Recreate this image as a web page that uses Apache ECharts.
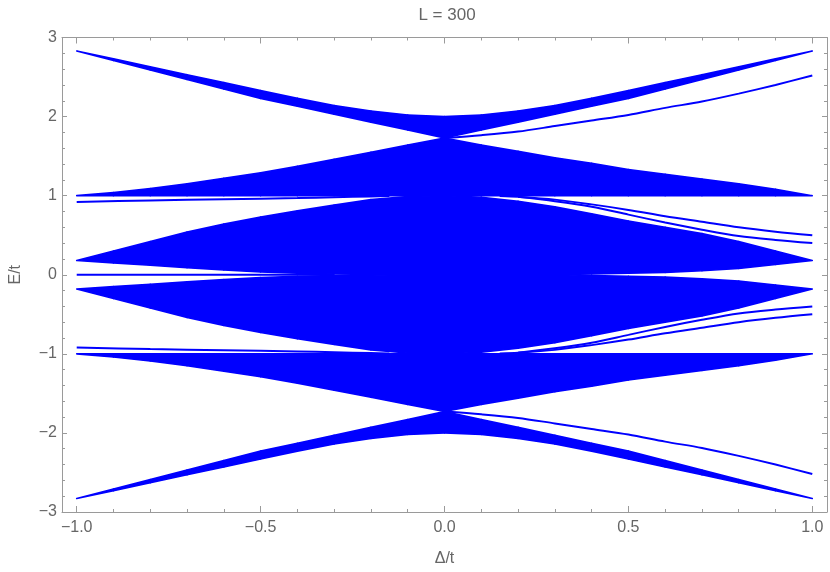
<!DOCTYPE html>
<html>
<head>
<meta charset="utf-8">
<script src="https://cdn.jsdelivr.net/npm/echarts@6/dist/echarts.min.js"></script>
<style>
  html, body { margin: 0; padding: 0; background: #fff; }
  #chart { width: 830px; height: 572px; }
</style>
</head>
<body>
<div id="chart"></div>
<script>
// sample points along Δ/t
const deltas = [-1, -0.9, -0.8, -0.7, -0.6, -0.5, -0.4, -0.3, -0.2, -0.1, 0,
  0.1, 0.2, 0.3, 0.4, 0.5, 0.6, 0.7, 0.8, 0.9, 1]

// bulk bands, E > 0 (lower / upper edge)
const bandALower = [2.83, 2.71, 2.59, 2.47, 2.35, 2.23, 2.13, 2.03, 1.93, 1.83, 1.73,
  1.83, 1.93, 2.03, 2.13, 2.23, 2.35, 2.47, 2.59, 2.71, 2.83]
const bandAUpper = [2.83, 2.73, 2.63, 2.53, 2.43, 2.33, 2.23, 2.14, 2.07, 2.02, 2.00,
  2.02, 2.07, 2.14, 2.23, 2.33, 2.43, 2.53, 2.63, 2.73, 2.83]
const bandBLower = [1, 1, 1, 1, 1, 1, 1, 1, 1, 1, 1,
  1, 1, 1, 1, 1, 1, 1, 1, 1, 1]
const bandBUpper = [1.00, 1.04, 1.09, 1.15, 1.22, 1.29, 1.37, 1.46, 1.55, 1.64, 1.73,
  1.64, 1.56, 1.48, 1.41, 1.33, 1.27, 1.21, 1.15, 1.08, 1.00]
const bandCLower = [0.18, 0.15, 0.12, 0.09, 0.06, 0.035, 0.02, 0.01, 0.005, 0, 0,
  0, 0, 0, 0.01, 0.02, 0.03, 0.05, 0.08, 0.13, 0.18]
const bandCUpper = [0.18, 0.30, 0.42, 0.54, 0.64, 0.73, 0.81, 0.88, 0.95, 0.99, 1.00,
  0.98, 0.93, 0.86, 0.77, 0.68, 0.60, 0.52, 0.42, 0.30, 0.18]

// bulk bands, E < 0
const negALower = [-2.83, -2.73, -2.63, -2.53, -2.43, -2.33, -2.23, -2.14, -2.07, -2.02, -2.00,
  -2.02, -2.07, -2.14, -2.23, -2.33, -2.43, -2.53, -2.63, -2.73, -2.83]
const negAUpper = [-2.83, -2.71, -2.59, -2.47, -2.35, -2.23, -2.13, -2.03, -1.93, -1.83, -1.73,
  -1.83, -1.93, -2.03, -2.13, -2.23, -2.35, -2.47, -2.59, -2.71, -2.83]
const negBLower = [-1.00, -1.04, -1.09, -1.15, -1.22, -1.29, -1.37, -1.46, -1.55, -1.64, -1.73,
  -1.64, -1.56, -1.48, -1.41, -1.33, -1.27, -1.21, -1.15, -1.08, -1.00]
const negBUpper = [-1, -1, -1, -1, -1, -1, -1, -1, -1, -1, -1,
  -1, -1, -1, -1, -1, -1, -1, -1, -1, -1]
const negCLower = [-0.18, -0.30, -0.42, -0.54, -0.64, -0.73, -0.81, -0.88, -0.95, -0.99, -1.00,
  -0.98, -0.93, -0.86, -0.77, -0.68, -0.60, -0.52, -0.42, -0.30, -0.18]
const negCUpper = [-0.18, -0.15, -0.12, -0.09, -0.06, -0.035, -0.02, -0.01, -0.005, 0, 0,
  0, 0, 0, -0.01, -0.02, -0.03, -0.05, -0.08, -0.13, -0.18]

// edge states
const leftEdgeX = [-1, -0.8, -0.6, -0.4, -0.3, -0.2, -0.15]
const leftEdgeUp = [0.92, 0.94, 0.955, 0.97, 0.98, 0.99, 0.995]
const leftEdgeDown = [-0.92, -0.94, -0.955, -0.97, -0.98, -0.99, -0.995]
const zeroModeX = [-1, -0.3]
const zeroModeY = [0, 0]

const right1X = [0, 0.1, 0.2, 0.3, 0.4, 0.5, 0.6, 0.7, 0.8, 0.9, 1]
const right1Up = [1.73, 1.765, 1.81, 1.88, 1.95, 2.02, 2.11, 2.19, 2.29, 2.40, 2.52]
const right1Down = [-1.73, -1.765, -1.81, -1.88, -1.95, -2.02, -2.11, -2.19, -2.29, -2.40, -2.52]
const right2X = [0.15, 0.2, 0.3, 0.4, 0.5, 0.6, 0.7, 0.8, 0.9, 1]
const right2Up = [0.995, 0.985, 0.95, 0.89, 0.82, 0.74, 0.67, 0.60, 0.545, 0.50]
const right2Down = [-0.995, -0.985, -0.95, -0.89, -0.82, -0.74, -0.67, -0.60, -0.545, -0.50]
const right3X = [0.2, 0.3, 0.4, 0.5, 0.6, 0.7, 0.8, 0.9, 1]
const right3Up = [0.985, 0.93, 0.86, 0.76, 0.66, 0.57, 0.49, 0.44, 0.40]
const right3Down = [-0.985, -0.93, -0.86, -0.76, -0.66, -0.57, -0.49, -0.44, -0.40]

// ticks
const xMajorTicks = [-1, -0.5, 0, 0.5, 1]
const xMinorTicks = [-1, -0.9, -0.8, -0.7, -0.6, -0.5, -0.4, -0.3, -0.2, -0.1, 0,
  0.1, 0.2, 0.3, 0.4, 0.5, 0.6, 0.7, 0.8, 0.9, 1]

const BLUE = '#0000ff'
const FRAME = '#9a9a9a'
const TEXT = '#666'
const FONT = '"Liberation Sans", Arial, sans-serif'

const minus = (s) => s.replace('-', '\u2212')

function bandSeries(lower, upper) {
  return {
    type: 'custom',
    silent: true,
    animation: false,
    z: 2,
    encode: { x: 0, y: [1, 2] },
    data: deltas.map((d, i) => [d, lower[i], upper[i]]),
    renderItem: (params, api) => {
      const i = params.dataIndexInside
      if (i >= params.dataInsideLength - 1) return null
      const a = api.coord([api.value(0, i), api.value(1, i)])
      const b = api.coord([api.value(0, i + 1), api.value(1, i + 1)])
      const c = api.coord([api.value(0, i + 1), api.value(2, i + 1)])
      const d = api.coord([api.value(0, i), api.value(2, i)])
      return {
        type: 'polygon',
        shape: { points: [a, b, c, d] },
        style: { fill: BLUE, stroke: BLUE, lineWidth: 1.6, lineJoin: 'round' }
      }
    }
  }
}

function lineSeries(xs, ys) {
  return {
    type: 'line',
    silent: true,
    animation: false,
    z: 3,
    showSymbol: false,
    symbol: 'none',
    smooth: 0.3,
    lineStyle: { color: BLUE, width: 2 },
    data: xs.map((x, i) => [x, ys[i]])
  }
}

function xFrame(position, ticks, len, showLine, withLabel) {
  return {
    type: 'value',
    position,
    min: -1.04,
    max: 1.04,
    axisLine: { show: showLine, onZero: false, lineStyle: { color: FRAME, width: 1 } },
    axisTick: { show: true, inside: true, length: len, customValues: ticks, lineStyle: { color: FRAME } },
    axisLabel: {
      show: withLabel,
      customValues: ticks,
      color: TEXT,
      fontSize: 16,
      fontFamily: FONT,
      margin: 8,
      formatter: (v) => minus(Number(v).toFixed(1))
    },
    splitLine: { show: false },
    name: withLabel ? 'Δ/t' : '',
    nameLocation: 'middle',
    nameGap: 39,
    nameTextStyle: { color: TEXT, fontSize: 16, fontFamily: FONT }
  }
}

function yFrame(position, withLabel) {
  return {
    type: 'value',
    position,
    min: -3,
    max: 3,
    interval: 1,
    axisLine: { show: true, onZero: false, lineStyle: { color: FRAME, width: 1 } },
    axisTick: { show: true, inside: true, length: 5, lineStyle: { color: FRAME } },
    minorTick: { show: true, splitNumber: 5, length: 3, lineStyle: { color: FRAME } },
    axisLabel: {
      show: withLabel,
      color: TEXT,
      fontSize: 16,
      fontFamily: FONT,
      margin: 5,
      showMinLabel: true,
      showMaxLabel: true,
      formatter: (v) => minus(String(v))
    },
    splitLine: { show: false },
    minorSplitLine: { show: false },
    name: withLabel ? 'E/t' : '',
    nameLocation: 'middle',
    nameRotate: 90,
    nameGap: 38,
    nameTextStyle: { color: TEXT, fontSize: 16, fontFamily: FONT }
  }
}

const chart = echarts.init(document.getElementById('chart'), null, { renderer: 'canvas' })

chart.setOption({
  backgroundColor: '#fff',
  animation: false,
  title: {
    text: 'L = 300',
    left: 442,
    top: 2,
    textAlign: 'center',
    textStyle: { color: TEXT, fontSize: 17, fontWeight: 'normal', fontFamily: FONT }
  },
  grid: { left: 58, right: 3, top: 37.5, bottom: 58.5, containLabel: false },
  xAxis: [
    xFrame('bottom', xMajorTicks, 6, true, true),
    xFrame('bottom', xMinorTicks, 3, false, false),
    xFrame('top', xMajorTicks, 6, true, false),
    xFrame('top', xMinorTicks, 3, false, false)
  ],
  yAxis: [
    yFrame('left', true),
    yFrame('right', false)
  ],
  series: [
    bandSeries(bandALower, bandAUpper),
    bandSeries(bandBLower, bandBUpper),
    bandSeries(bandCLower, bandCUpper),
    bandSeries(negALower, negAUpper),
    bandSeries(negBLower, negBUpper),
    bandSeries(negCLower, negCUpper),
    lineSeries(leftEdgeX, leftEdgeUp),
    lineSeries(leftEdgeX, leftEdgeDown),
    lineSeries(zeroModeX, zeroModeY),
    lineSeries(right1X, right1Up),
    lineSeries(right1X, right1Down),
    lineSeries(right2X, right2Up),
    lineSeries(right2X, right2Down),
    lineSeries(right3X, right3Up),
    lineSeries(right3X, right3Down)
  ]
})
</script>
</body>
</html>
